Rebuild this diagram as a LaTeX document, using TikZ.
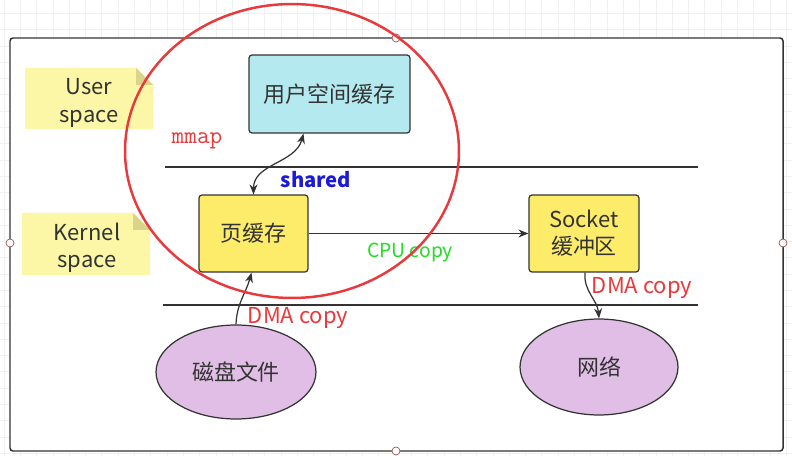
\documentclass[tikz,border=0pt]{standalone}
\usepackage{fontspec}
\setmainfont{Noto Sans CJK SC}
\usetikzlibrary{arrows.meta,calc,shapes.geometric}
\definecolor{boxline}{HTML}{333333}
\definecolor{cyanfill}{HTML}{B3E9EF}
\definecolor{yellowfill}{HTML}{FDEB6A}
\definecolor{purplefill}{HTML}{E0BEE6}
\definecolor{notefill}{HTML}{FBF7A6}
\definecolor{notefold}{HTML}{D9D48A}
\definecolor{mmapred}{HTML}{E8393C}
\definecolor{sharedblue}{HTML}{1A1AD8}
\definecolor{cpugreen}{HTML}{22DD22}
\definecolor{dotline}{HTML}{A05050}

\begin{document}
\begin{tikzpicture}[x=0.02cm, y=0.02cm,
    every node/.style={text=black!80, font=\fontsize{12.5}{15.5}\selectfont},
    box/.style={draw=boxline, line width=0.7pt, rounded corners=0.06cm, align=center, inner sep=0pt},
    disc/.style={ellipse, draw=boxline, line width=0.7pt, fill=purplefill, inner sep=0pt},
    flow/.style={draw=boxline, line width=0.7pt, -{Stealth[length=0.2cm, width=0.16cm]}},
    portdot/.style={circle, draw=dotline, fill=white, line width=0.4pt, minimum size=0.16cm, inner sep=0pt}]
    % background grid
    \useasboundingbox (0,0) rectangle (792,-456);
    \draw[gray!12, line width=0.4pt, step=0.326cm, xshift=0.08cm, yshift=0.06cm] (-10,10) grid (800,-470);
    % frame
    \draw[fill=white, draw=boxline, line width=0.85pt, rounded corners=0.06cm] (10,-38) rectangle (783,-451);
    \node[portdot] (ptop) at (396,-38) {};
    \node[portdot] (pleft) at (10,-243) {};
    \node[portdot] (pright) at (783,-243) {};
    \node[portdot] (pbottom) at (396,-451) {};
    % notes
    \fill[notefill] (25,-68) -- (136,-68) -- (153,-85) -- (153,-129) -- (25,-129) -- cycle;
    \fill[notefold] (136,-68) -- (153,-85) -- (136,-85) -- cycle;
    \node[align=center] (usernote) at (89,-103) {User\\space};
    \fill[notefill] (22,-213) -- (133,-213) -- (150,-230) -- (150,-275) -- (22,-275) -- cycle;
    \fill[notefold] (133,-213) -- (150,-230) -- (133,-230) -- cycle;
    \node[align=center] (kernelnote) at (87,-248) {Kernel\\space};
    % boundary lines
    \draw[boxline, line width=0.85pt] (165,-167) -- (698,-167);
    \draw[boxline, line width=0.85pt] (163,-305) -- (698,-305);
    % boxes
    \node[box, fill=cyanfill, minimum width=3.22cm, minimum height=1.56cm] (userbuf) at (329.5,-94) {用户空间缓存};
    \node[box, fill=yellowfill, minimum width=2.18cm, minimum height=1.54cm] (pagecache) at (253.5,-233.5) {页缓存};
    \node[box, fill=yellowfill, minimum width=2.2cm, minimum height=1.54cm] (sockbuf) at (584,-233.5) {Socket\\缓冲区};
    \node[disc, minimum width=3.2cm, minimum height=1.88cm] (disk) at (236,-372) {磁盘文件};
    \node[disc, minimum width=3.16cm, minimum height=1.92cm] (net) at (599,-367) {网络};
    % arrows
    \draw[flow, {Stealth[length=0.2cm, width=0.16cm]}-{Stealth[length=0.2cm, width=0.16cm]}]
      (pagecache.north) to[out=90, in=-105] ($(userbuf.south)+(-26,0)$);
    \draw[flow] (pagecache.east) -- (sockbuf.west);
    \draw[flow] (disk.north) to[out=88, in=-105] ($(pagecache.south)+(-2,0)$);
    \draw[flow] ($(sockbuf.south)+(1,0)$) to[out=-95, in=95] (net.north);
    % labels
    \node[text=sharedblue, font=\fontsize{11.5}{14}\selectfont\bfseries] (sharedlbl) at (316,-180) {shared};
    \node[text=cpugreen, font=\fontsize{11}{14}\selectfont] (cpulbl) at (410,-253) {CPU copy};
    \node[text=mmapred] (dmalbl1) at (298,-318) {DMA copy};
    \node[text=mmapred] (dmalbl2) at (642,-288) {DMA copy};
    \node[text=mmapred, font=\fontsize{14}{16}\ttfamily] (mmaplbl) at (197,-141) {mmap};
    % mmap region
    \draw[mmapred, line width=1.4pt] (292,-151) ellipse [x radius=3.34cm, y radius=2.94cm];
  \end{tikzpicture}
\end{document}
